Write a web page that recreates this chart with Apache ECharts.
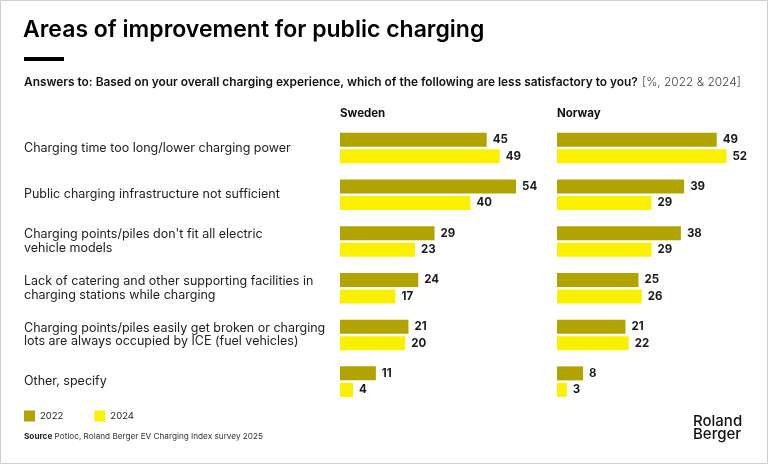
<!DOCTYPE html>
<html>
<head>
<meta charset="utf-8">
<script src="https://cdn.jsdelivr.net/npm/echarts@6/dist/echarts.min.js"></script>
<style>html,body{margin:0;padding:0;background:#fff}#c{width:768px;height:464px}</style>
</head>
<body>
<div id="c"></div>
<script>
const categories = [
  "Charging time too long/lower charging power",
  "Public charging infrastructure not sufficient",
  "Charging points/piles don't fit all electric\nvehicle models",
  "Lack of catering and other supporting facilities in\ncharging stations while charging",
  "Charging points/piles easily get broken or charging\nlots are always occupied by ICE (fuel vehicles)",
  "Other, specify"
];
const years = ["2022", "2024"];
const sweden2022 = [45, 54, 29, 24, 21, 11];
const sweden2024 = [49, 40, 23, 17, 20, 4];
const norway2022 = [49, 39, 38, 25, 21, 8];
const norway2024 = [52, 29, 29, 26, 22, 3];
const countries = ["Sweden", "Norway"];

const C2022 = '#B1A300', C2024 = '#FAF000';
const FONT = 'Inter';
const chart = echarts.init(document.getElementById('c'), null, {renderer: 'canvas'});

function barSeries(name, data, idx, color) {
  return {
    name: name, type: 'bar', data: data,
    xAxisIndex: idx, yAxisIndex: idx,
    barWidth: 14, barGap: '18%',
    itemStyle: {color: color},
    label: {show: true, position: 'right', distance: 6, color: '#1a1a1a',
      fontFamily: FONT, fontWeight: 700, fontSize: 11.5},
    animation: false
  };
}
const grids = [{left: 340, top: 124.6, width: 195.6, height: 280.4},
               {left: 557, top: 124.6, width: 195.6, height: 280.4}];
chart.setOption({
  animation: false,
  textStyle: {fontFamily: FONT},
  title: [
    {text: 'Areas of improvement for public charging', left: 23, top: 19, padding: 0,
     textStyle: {fontFamily: FONT, fontSize: 23, fontWeight: 600, color: '#000'}},
    {text: '{b|Answers to: Based on your overall charging experience, which of the following are less satisfactory to you?} {l|[%, 2022 & 2024]}',
     left: 24, top: 73.5, padding: 0,
     textStyle: {rich: {
       b: {fontFamily: FONT, fontSize: 11.9, fontWeight: 600, color: '#111'},
       l: {fontFamily: FONT, fontSize: 11.9, fontWeight: 300, color: '#444'}}}},
    {text: countries[0], left: 340, top: 108, padding: 0,
     textStyle: {fontFamily: FONT, fontSize: 11.5, fontWeight: 700, color: '#111'}},
    {text: countries[1], left: 557, top: 108, padding: 0,
     textStyle: {fontFamily: FONT, fontSize: 11.5, fontWeight: 700, color: '#111'}},
    {text: '{b|Source} Potloc, Roland Berger EV Charging Index survey 2025', left: 24, top: 432.5, padding: 0,
     textStyle: {fontFamily: FONT, fontSize: 8.2, fontWeight: 400, color: '#333',
       rich: {b: {fontFamily: FONT, fontSize: 8.2, fontWeight: 700, color: '#222'}}}},
    {text: 'Roland\nBerger', left: 693, top: 415, padding: 0,
     textStyle: {fontFamily: FONT, fontSize: 15, fontWeight: 500, color: '#111', lineHeight: 13}}
  ],
  legend: {
    data: years, left: 24, top: 410.5, padding: 0, icon: 'rect', itemWidth: 11, itemHeight: 11,
    itemGap: 31, textStyle: {fontFamily: FONT, fontSize: 9.5, color: '#222'}
  },
  grid: grids,
  xAxis: [0, 1].map(i => ({gridIndex: i, type: 'value', min: 0, max: 60, show: false})),
  yAxis: [0, 1].map(i => ({
    gridIndex: i, type: 'category', data: categories, inverse: true,
    axisLine: {show: false}, axisTick: {show: false}, splitLine: {show: false},
    axisLabel: i === 0 ? {show: true, align: 'left', margin: 316, color: '#222',
      fontFamily: FONT, fontSize: 12.5, lineHeight: 13.5} : {show: false}
  })),
  series: [
    barSeries(years[0], sweden2022, 0, C2022),
    barSeries(years[1], sweden2024, 0, C2024),
    barSeries(years[0], norway2022, 1, C2022),
    barSeries(years[1], norway2024, 1, C2024)
  ],
  graphic: [
    {type: 'rect', shape: {x: 0.5, y: 0.5, width: 767, height: 463}, style: {fill: 'none', stroke: '#cfcfcf', lineWidth: 1}, silent: true},
    {type: 'rect', shape: {x: 24, y: 57, width: 40, height: 4}, style: {fill: '#000'}, silent: true}
  ]
});
</script>
</body>
</html>
